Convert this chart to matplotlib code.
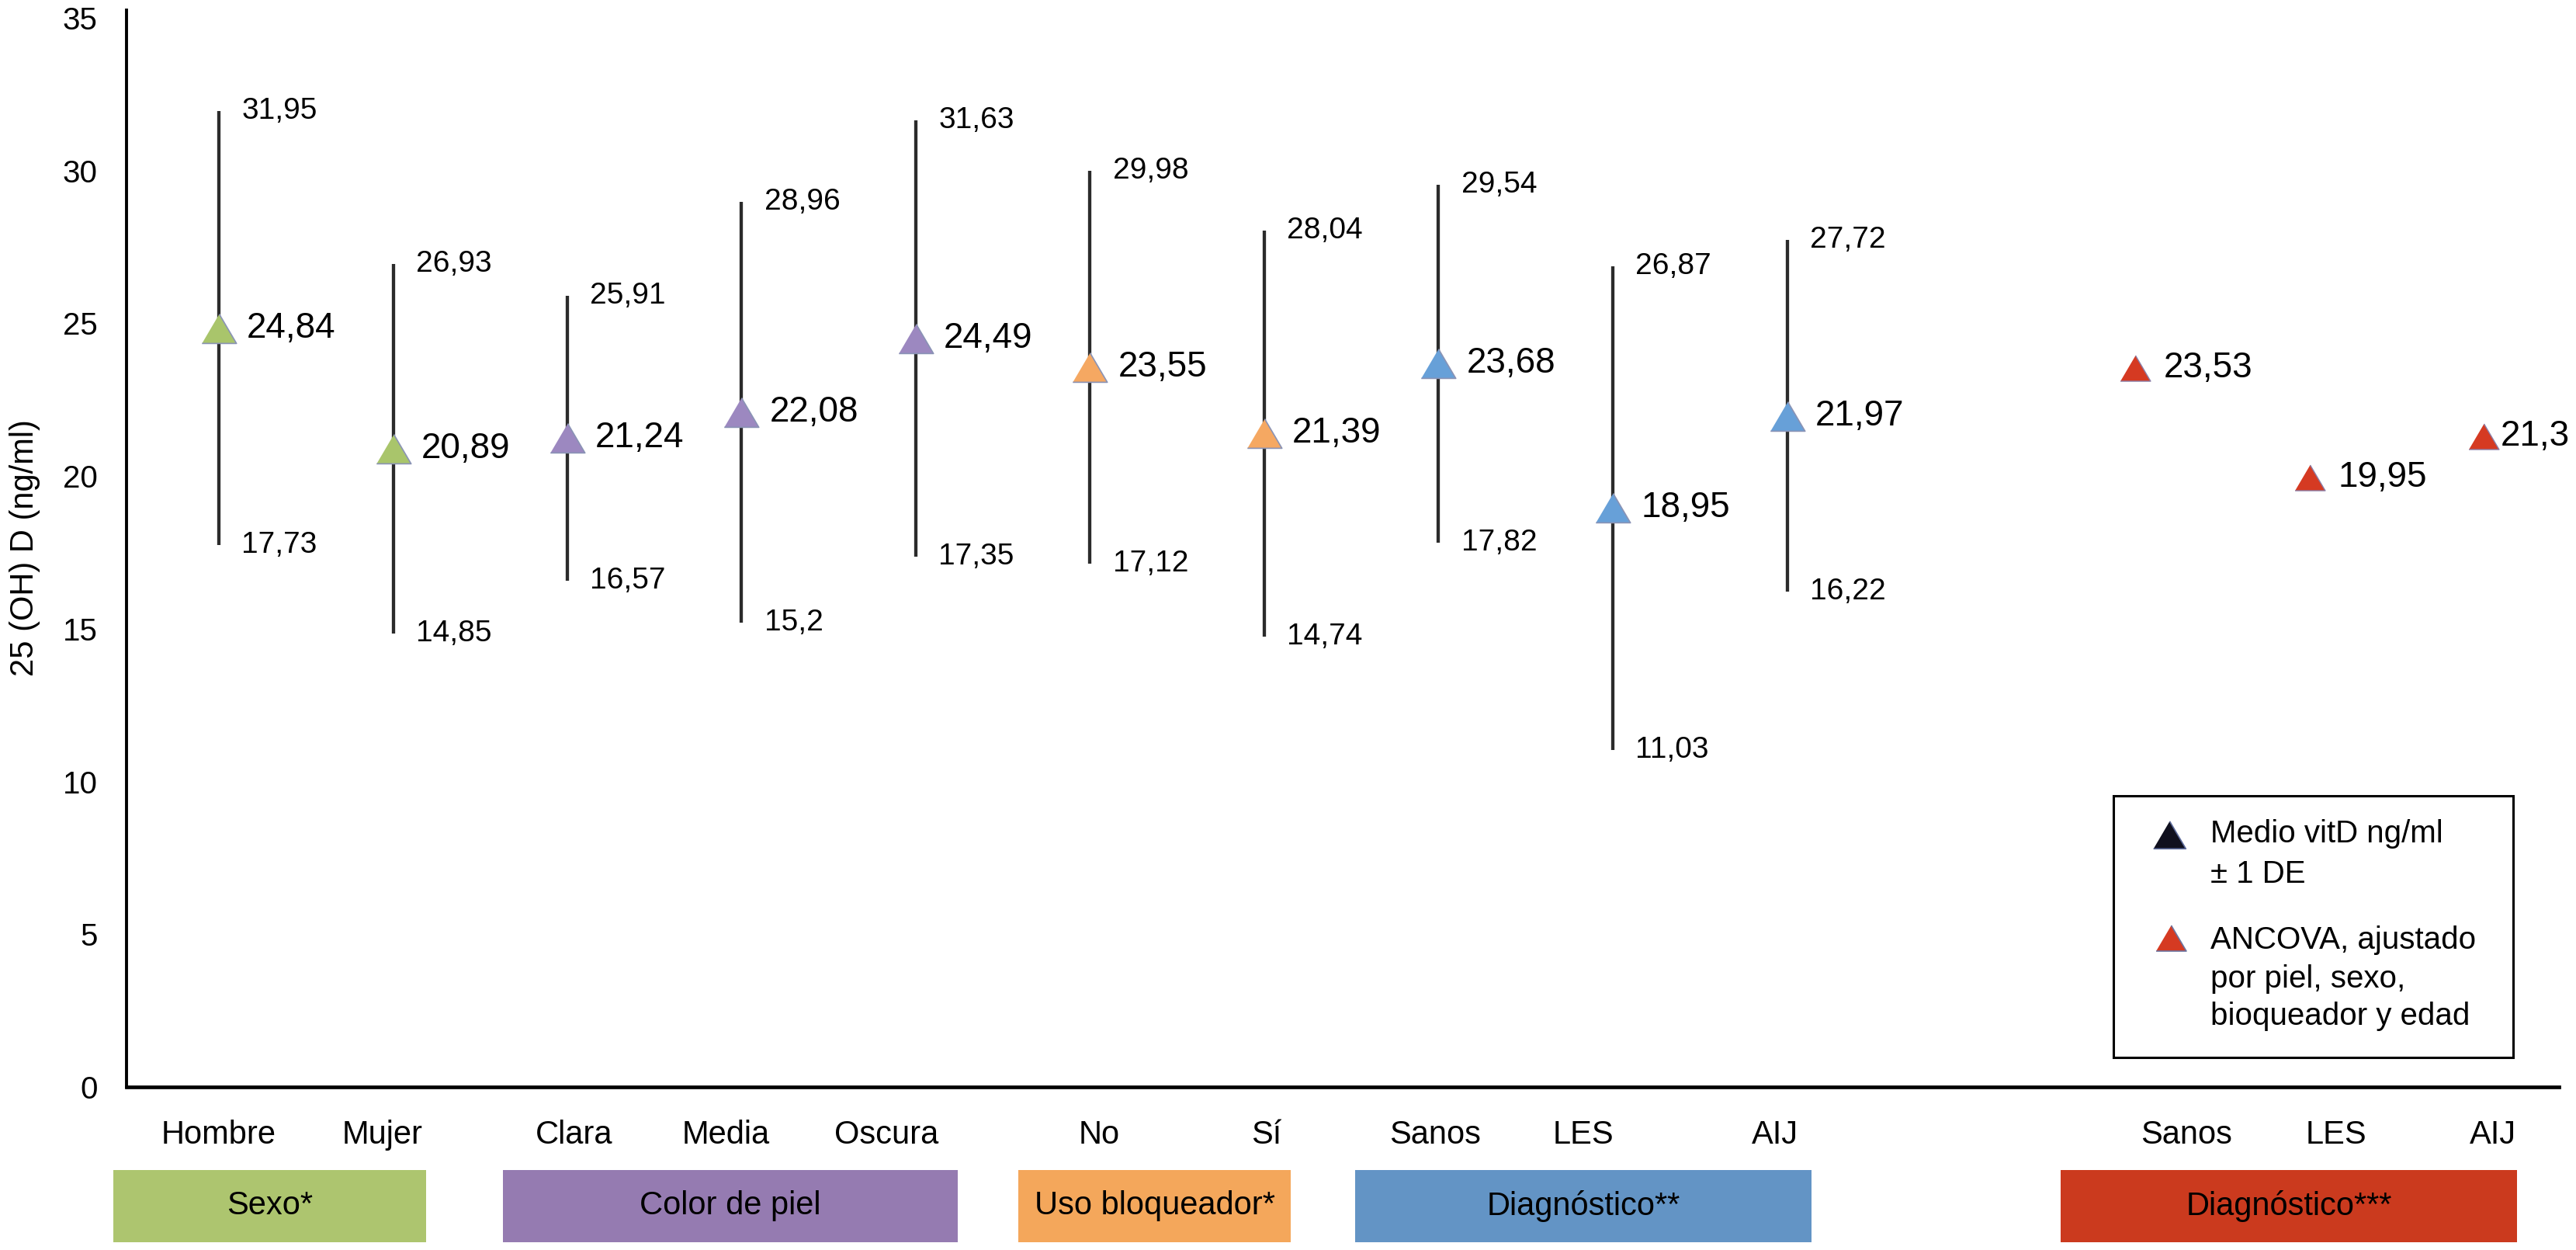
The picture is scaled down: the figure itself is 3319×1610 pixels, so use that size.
"""Vitamin D (25-OH D) by subgroup: mean +/- 1 SD with ANCOVA-adjusted means."""

import matplotlib.pyplot as plt
from matplotlib.lines import Line2D
from matplotlib.patches import Rectangle
import matplotlib.transforms as mtransforms

plt.rcParams["font.family"] = ["Liberation Sans", "DejaVu Sans"]

# ---- data -------------------------------------------------------------
categories = ["Hombre", "Mujer", "Clara", "Media", "Oscura", "No", "Sí",
              "Sanos", "LES", "AIJ"]
means = [24.84, 20.89, 21.24, 22.08, 24.49, 23.55, 21.39, 23.68, 18.95, 21.97]
upper = [31.95, 26.93, 25.91, 28.96, 31.63, 29.98, 28.04, 29.54, 26.87, 27.72]
lower = [17.73, 14.85, 16.57, 15.2, 17.35, 17.12, 14.74, 17.82, 11.03, 16.22]
group_of = [0, 0, 1, 1, 1, 2, 2, 3, 3, 3]

adj_categories = ["Sanos", "LES", "AIJ"]
adj_means = [23.53, 19.95, 21.3]

group_names = ["Sexo*", "Color de piel", "Uso bloqueador*", "Diagnóstico**",
               "Diagnóstico***"]
y_ticks = [0, 5, 10, 15, 20, 25, 30, 35]

legend_lines_1 = ["Medio vitD ng/ml", "± 1 DE"]
legend_lines_2 = ["ANCOVA, ajustado", "por piel, sexo,", "bioqueador y edad"]

# ---- layout / style ----------------------------------------------------
x_pos = list(range(len(categories)))
adj_x_pos = [11, 12, 13]
label_pos = [0, 0.94, 2.04, 2.91, 3.83, 5.05, 6.01, 6.98, 7.83, 8.93]
adj_label_pos = [11.29, 12.15, 13.05]
group_spans = [(-0.606, 1.19), (1.63, 4.24), (4.59, 6.15), (6.52, 9.14),
               (10.57, 13.19)]
box_colours = ["#ADC56F", "#957BB1", "#F4A75B", "#6394C5", "#CB3A1E"]
marker_colours = ["#A9C56B", "#9C88C0", "#F5A862", "#67A0D8"]
adj_colour = "#D53A22"
edge_col = "#8A93B5"

W, H = 3319, 1610
AX_L, AX_R, AX_T, AX_B = 163, 3297, 13, 1400
STEP = 224.5
X0 = 282

tri = [(-1, -0.85), (1, -0.85), (0, 0.85)]


def fy(px):
    return 1 - px / H


def fx(px):
    return px / W


def fmt(v):
    return f"{v:g}".replace(".", ",")


fig = plt.figure(figsize=(W / 100, H / 100), dpi=100)
fig.patch.set_facecolor("white")
ax = fig.add_axes([fx(AX_L), fy(AX_B), (AX_R - AX_L) / W, (AX_B - AX_T) / H])

xmin = -(X0 - AX_L) / STEP
ax.set_xlim(xmin, xmin + (AX_R - AX_L) / STEP)
ax.set_ylim(0, 35.25)

# error bars (mean +/- 1 SD)
ax.vlines(x_pos, lower, upper, color="#2B2B2B", lw=3.1, zorder=2)

for i, x in enumerate(x_pos):
    ax.plot(x, means[i], marker=tri, ms=32, color=marker_colours[group_of[i]],
            mec=edge_col, mew=1.2, zorder=3, linestyle="none")
    ax.annotate(fmt(means[i]), (x, means[i]), xytext=(26, 0),
                textcoords="offset points", va="center", ha="left", fontsize=33)
    ax.annotate(fmt(upper[i]), (x, upper[i]), xytext=(21, 0),
                textcoords="offset points", va="center", ha="left", fontsize=28)
    ax.annotate(fmt(lower[i]), (x, lower[i]), xytext=(21, 0),
                textcoords="offset points", va="center", ha="left", fontsize=28)

for i, x in enumerate(adj_x_pos):
    ax.plot(x, adj_means[i], marker=tri, ms=28, color=adj_colour,
            mec="#8A7FA8", mew=1.0, zorder=3, linestyle="none")
    ax.annotate(fmt(adj_means[i]), (x, adj_means[i]),
                xytext=(26 if i < 2 else 15, 0), textcoords="offset points",
                va="center", ha="left", fontsize=33)

# axes styling
for side in ("top", "right"):
    ax.spines[side].set_visible(False)
ax.spines["left"].set_linewidth(2.8)
ax.spines["bottom"].set_linewidth(3.4)
ax.set_xticks([])
ax.set_yticks(y_ticks)
ax.set_yticklabels([str(t) for t in y_ticks], fontsize=29)
ax.tick_params(axis="y", length=0, pad=27)

fig.text(fx(32), fy(706), "25 (OH) D (ng/ml)", rotation=90, ha="center",
         va="center", fontsize=30)

# category labels and group boxes below the axis
blend = mtransforms.blended_transform_factory(ax.transData, fig.transFigure)
for lab, x in zip(categories + adj_categories, label_pos + adj_label_pos):
    ax.text(x, fy(1462), lab, transform=blend, ha="center", va="center",
            fontsize=30, clip_on=False)

for name, (x0, x1), col in zip(group_names, group_spans, box_colours):
    ax.add_patch(Rectangle((x0, fy(1600)), x1 - x0, (1600 - 1507) / H,
                           transform=blend, facecolor=col, edgecolor="none",
                           clip_on=False))
    ax.text((x0 + x1) / 2, fy(1553), name, transform=blend, ha="center",
            va="center", fontsize=30, clip_on=False)

# legend box (drawn by hand to keep the marker beside the first text line)
fig.patches.append(Rectangle((fx(2723), fy(1362)), (3238 - 2723) / W,
                             (1362 - 1025) / H, transform=fig.transFigure,
                             facecolor="white", edgecolor="black", lw=2.2))
fig.lines.append(Line2D([fx(2795)], [fy(1075)], transform=fig.transFigure,
                        marker=tri, ms=30, color="#10101E", mec="#5C6A9A",
                        mew=1.2, linestyle="none"))
fig.lines.append(Line2D([fx(2797)], [fy(1208)], transform=fig.transFigure,
                        marker=tri, ms=28, color=adj_colour, mec="#6C74A0",
                        mew=1.2, linestyle="none"))
for txt, base in zip(legend_lines_1, [1085, 1137]):
    fig.text(fx(2848), fy(base), txt, ha="left", va="baseline", fontsize=29)
for txt, base in zip(legend_lines_2, [1222, 1272, 1320]):
    fig.text(fx(2848), fy(base), txt, ha="left", va="baseline", fontsize=29)

fig.savefig("out.png", dpi=100)
plt.close(fig)
